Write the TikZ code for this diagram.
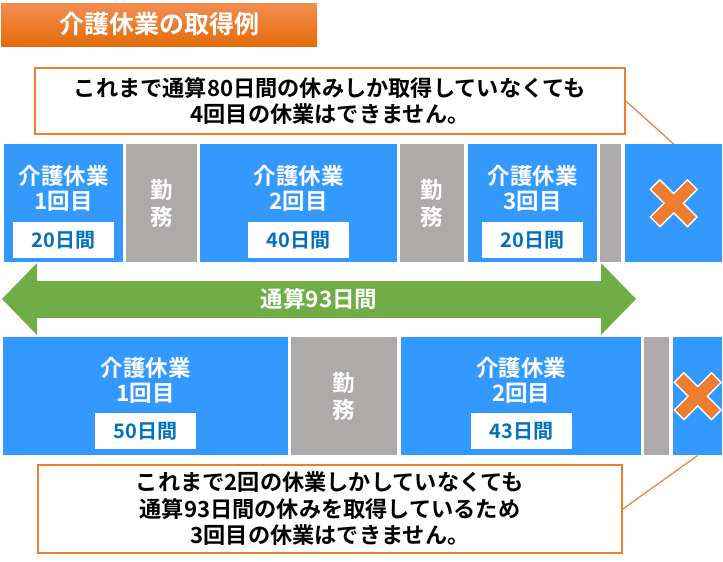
\documentclass[tikz,border=0pt]{standalone}
\usepackage{fontspec}
\newfontfamily\jp{Noto Sans CJK JP Bold}
\usetikzlibrary{positioning}
\definecolor{kblue}{RGB}{51,153,255}
\definecolor{kgray}{RGB}{174,170,170}
\definecolor{kgreen}{RGB}{112,173,71}
\definecolor{korange}{RGB}{237,125,49}
\definecolor{ntext}{RGB}{0,112,192}
\definecolor{ttop}{RGB}{242,142,82}
\definecolor{tbot}{RGB}{228,108,10}

\begin{document}
\begin{tikzpicture}[x=1pt,y=-1pt,
  bloque/.style={anchor=north west, inner sep=0pt, minimum height=118pt},
  kyugyo/.style={bloque, fill=kblue},
  kinmu/.style={bloque, fill=kgray},
  midashi/.style={text=white, font=\jp\fontsize{22.5}{25}\selectfont, align=center},
  tate/.style={text=white, font=\jp\fontsize{22.5}{27}\selectfont, align=center},
  nissu/.style={fill=white, text=ntext, font=\jp\fontsize{20}{24}\selectfont,
    minimum width=101pt, minimum height=36pt, inner sep=0pt},
  waku/.style={draw=korange, line width=1.6pt, fill=white, inner sep=0pt,
    font=\jp\fontsize{22.2}{26.5}\selectfont, align=center},
  hikidashi/.style={draw=korange, line width=1.2pt}]
\useasboundingbox (0,0) rectangle (723,562);

% titulo
\node[top color=ttop, bottom color=tbot, minimum width=316pt, minimum height=43pt,
  inner sep=0pt, text=white, font=\jp\fontsize{25}{28}\selectfont] (ttl) at (159,24.5) {介護休業の取得例};

% fila 1
\node[kyugyo, minimum width=119pt] (a1) at (4,144) {};
\node[kinmu, minimum width=71pt] (g1) at (126,144) {};
\node[kyugyo, minimum width=197pt] (a2) at (200,144) {};
\node[kinmu, minimum width=64pt] (g2) at (400,144) {};
\node[kyugyo, minimum width=129pt] (a3) at (468,144) {};
\node[kinmu, minimum width=21pt] (g3) at (600,144) {};
\node[kyugyo, minimum width=97pt] (ax) at (625,144) {};

\node[midashi] (t1) at ([yshift=-44.5pt]a1.north) {介護休業\\1回目};
\node[midashi] (t2) at ([yshift=-44.5pt]a2.north) {介護休業\\2回目};
\node[midashi] (t3) at ([yshift=-44.5pt]a3.north) {介護休業\\3回目};
\node[nissu] (d1) at ([yshift=-96pt]a1.north) {20日間};
\node[nissu] (d2) at ([yshift=-96pt]a2.north) {40日間};
\node[nissu] (d3) at ([yshift=-96pt]a3.north) {20日間};
\node[tate] (k1) at (g1.center) {勤\\務};
\node[tate] (k2) at (g2.center) {勤\\務};

% flecha doble
\fill[kgreen] (2,299) -- (37,263) -- (37,281) -- (601,281) -- (601,263) -- (636,299)
  -- (601,335) -- (601,318) -- (37,318) -- (37,335) -- cycle;
\node[midashi] (tsusan) at (319,299) {通算93日間};

% fila 2
\node[kyugyo, minimum width=285pt] (b1) at (3,337) {};
\node[kinmu, minimum width=106pt] (h1) at (291,337) {};
\node[kyugyo, minimum width=240pt] (b2) at (401,337) {};
\node[kinmu, minimum width=25pt] (h2) at (644,337) {};
\node[kyugyo, minimum width=49pt] (bx) at (673,337) {};

\node[midashi] (u1) at ([yshift=-43.5pt]b1.north) {介護休業\\1回目};
\node[midashi] (u2) at ([yshift=-43.5pt]b2.north) {介護休業\\2回目};
\node[nissu] (e1) at ([yshift=-94pt]b1.north) {50日間};
\node[nissu] (e2) at ([yshift=-94pt]b2.north) {43日間};
\node[tate] (k3) at (h1.center) {勤\\務};

% cruces
\foreach \b in {ax,bx}{
  \begin{scope}[shift={(\b.center)}]
    \draw[white, line width=15pt] (-19.1,-19.1) -- (19.1,19.1) (-19.1,19.1) -- (19.1,-19.1);
    \draw[korange, line width=12pt] (-18,-18) -- (18,18) (-18,18) -- (18,-18);
  \end{scope}
}

% llamadas
\node[waku, minimum width=590pt, minimum height=66pt] (c1) at (330,101)
  {これまで通算80日間の休みしか取得していなくても\\4回目の休業はできません。};
\node[waku, minimum width=584pt, minimum height=88pt] (c2) at (330,509)
  {これまで2回の休業しかしていなくても\\通算93日間の休みを取得しているため\\3回目の休業はできません。};
\draw[hikidashi] (c1.east) -- (ax.north);
\draw[hikidashi] (c2.east) -- (bx.south);
\end{tikzpicture}
\end{document}
